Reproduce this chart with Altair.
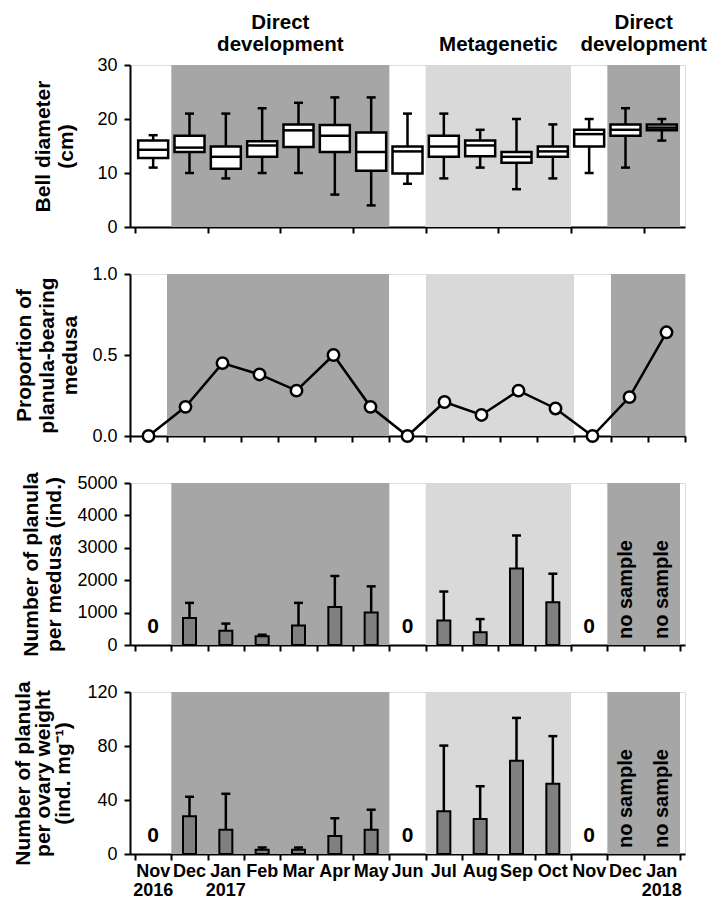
import altair as alt
import pandas as pd

# ---------------- data ----------------
months = ["Nov", "Dec", "Jan", "Feb", "Mar", "Apr", "May", "Jun",
          "Jul", "Aug", "Sep", "Oct", "Nov", "Dec", "Jan"]
years = ["2016", "", "2017", "", "", "", "", "", "", "", "", "", "", "", "2018"]

box_low = [11, 10, 9, 10, 10, 6, 4, 8, 9, 11, 7, 9, 10, 11, 16]
box_q1 = [12.8, 13.9, 10.8, 13.0, 14.8, 13.9, 10.4, 9.9, 13.0, 13.1, 11.9, 13.0, 14.9, 16.9, 17.9]
box_med = [14.3, 14.7, 13.0, 15.1, 17.9, 16.9, 13.9, 14.0, 14.9, 15.1, 13.0, 14.0, 17.2, 18.0, 18.4]
box_q3 = [16.0, 16.9, 14.9, 15.9, 19.0, 18.9, 17.5, 14.9, 16.9, 16.0, 13.9, 14.9, 18.0, 19.0, 19.0]
box_high = [17, 21, 21, 22, 23, 24, 24, 21, 21, 18, 20, 19, 20, 22, 20]

proportion = [0, 0.18, 0.45, 0.38, 0.28, 0.50, 0.18, 0, 0.21, 0.13, 0.28, 0.17, 0, 0.24, 0.64]

medusa_mean = [None, 830, 440, 270, 600, 1170, 1000, None, 760, 390, 2360, 1320, None, None, None]
medusa_sd = [None, 470, 220, 50, 700, 960, 810, None, 890, 410, 1020, 880, None, None, None]

ovary_mean = [None, 28, 18, 3.2, 3.2, 13.3, 18, None, 31.6, 26, 69, 52, None, None, None]
ovary_sd = [None, 14.4, 26.6, 1.6, 1.6, 13.2, 14.8, None, 48.7, 24.2, 31.8, 35.3, None, None, None]

zero_idx = [0, 7, 12]
nosample_idx = [13, 14]

phase_line1 = ["Direct", "", "Direct"]
phase_line2 = ["development", "Metagenetic", "development"]
phase_start = [1, 8, 13]
phase_end = [7, 12, 15]
phase_type = ["direct", "meta", "direct"]

# ---------------- tables ----------------
n = len(months)
pos = [i + 0.5 for i in range(n)]

box_df = pd.DataFrame({"pos": pos, "low": box_low, "q1": box_q1, "med": box_med,
                       "q3": box_q3, "high": box_high})
prop_df = pd.DataFrame({"pos": pos, "prop": proportion})
month_df = pd.DataFrame({"pos": pos,
                         "label": [m + ("\n" + y if y else "") for m, y in zip(months, years)]})


def bar_table(mean, sd):
    rows = []
    for p, m, s in zip(pos, mean, sd):
        if m is not None:
            rows.append({"pos": p, "mean": m, "top": m + s})
    return pd.DataFrame(rows)


medusa_df = bar_table(medusa_mean, medusa_sd)
ovary_df = bar_table(ovary_mean, ovary_sd)

phase_df = pd.DataFrame({"start": phase_start, "end": phase_end, "type": phase_type,
                         "line1": phase_line1, "line2": phase_line2,
                         "center": [(a + b) / 2 for a, b in zip(phase_start, phase_end)]})
zero_df = pd.DataFrame({"pos": [i + 0.5 for i in zero_idx], "value": 0, "label": "0"})
ns_df = pd.DataFrame({"pos": [i + 0.5 for i in nosample_idx], "value": 0, "label": "no sample"})

# ---------------- styling ----------------
W = 555
H = 162
FONT = "Liberation Sans"
xscale = alt.Scale(domain=[0, n], nice=False, zero=False)
shade_scale = alt.Scale(domain=["direct", "meta"], range=["#a6a6a6", "#d9d9d9"])


def xaxis(step=1):
    return alt.Axis(values=list(range(0, n + 1, step)), title=None, grid=False,
                    labels=False, tickSize=6, tickWidth=2, tickColor="black",
                    domainColor="black", domainWidth=2)


def yaxis(title, values, fmt, pad=16, lh=23):
    return alt.Axis(title=title, values=values, format=fmt, grid=False,
                    tickSize=6, tickWidth=2, tickColor="black", domainColor="black",
                    domainWidth=2, labelFontSize=18, labelPadding=7,
                    titleFontSize=21, titleLineHeight=lh, titlePadding=pad)


def X(field, axis):
    return alt.X(field, type="quantitative", scale=xscale, axis=axis)


def shade(axis):
    return alt.Chart(phase_df).mark_rect().encode(
        x=X("start", axis), x2="end",
        color=alt.Color("type:N", scale=shade_scale, legend=None))


def phase_text(field, yoff, axis):
    return alt.Chart(phase_df).mark_text(font=FONT, fontWeight="bold", fontSize=20.5,
                                         align="center", baseline="alphabetic",
                                         color="black").encode(
        x=X("center", axis), y=alt.value(yoff), text=f"{field}:N")


# ---------------- panel 1: bell diameter ----------------
ax1 = xaxis(2)
ys1 = alt.Scale(domain=[0, 30], nice=False)
ya1 = yaxis(["Bell diameter", "(cm)"], [0, 10, 20, 30], "d", pad=20)
b1 = alt.Chart(box_df)
p1 = alt.layer(
    shade(ax1),
    b1.mark_rule(color="black", strokeWidth=2.5).encode(
        x=X("pos", ax1), y=alt.Y("low:Q", scale=ys1, axis=ya1), y2="high"),
    b1.mark_bar(size=30, fill="white", stroke="black", strokeWidth=2.5).encode(
        x=X("pos", ax1), y=alt.Y("q1:Q", scale=ys1, axis=ya1), y2="q3"),
    b1.mark_tick(orient="horizontal", size=30, thickness=2.5, color="black", opacity=1).encode(
        x=X("pos", ax1), y=alt.Y("med:Q", scale=ys1, axis=ya1)),
    b1.mark_tick(orient="horizontal", size=9, thickness=2.5, color="black", opacity=1).encode(
        x=X("pos", ax1), y=alt.Y("low:Q", scale=ys1, axis=ya1)),
    b1.mark_tick(orient="horizontal", size=9, thickness=2.5, color="black", opacity=1).encode(
        x=X("pos", ax1), y=alt.Y("high:Q", scale=ys1, axis=ya1)),
    phase_text("line1", -36, ax1),
    phase_text("line2", -14, ax1),
).properties(width=W, height=H)

# ---------------- panel 2: proportion ----------------
ax2 = xaxis(1)
ys2 = alt.Scale(domain=[0, 1], nice=False)
ya2 = yaxis(["Proportion of", "planula-bearing", "medusa"], [0, 0.5, 1.0], ".1f",
            pad=11, lh=23)
b2 = alt.Chart(prop_df)
p2 = alt.layer(
    shade(ax2),
    b2.mark_line(color="black", strokeWidth=2.5).encode(
        x=X("pos", ax2), y=alt.Y("prop:Q", scale=ys2, axis=ya2)),
    b2.mark_point(shape="circle", filled=True, fill="white", stroke="black",
                  strokeWidth=2.5, size=130, opacity=1).encode(
        x=X("pos", ax2), y=alt.Y("prop:Q", scale=ys2, axis=ya2)),
).properties(width=W, height=H)


# ---------------- panels 3 & 4: bars ----------------
def bar_panel(df, domain, values, title, pad, lh, bottom=False):
    ax = xaxis(1)
    ys = alt.Scale(domain=domain, nice=False)
    ya = yaxis(title, values, "d", pad=pad, lh=lh)
    b = alt.Chart(df)
    layers = [
        shade(ax),
        b.mark_rule(color="black", strokeWidth=2.5).encode(
            x=X("pos", ax), y=alt.Y("mean:Q", scale=ys, axis=ya), y2="top"),
        b.mark_tick(orient="horizontal", size=9, thickness=2.5, color="black", opacity=1).encode(
            x=X("pos", ax), y=alt.Y("top:Q", scale=ys, axis=ya)),
        b.mark_bar(size=13, fill="#808080", stroke="black", strokeWidth=2).encode(
            x=X("pos", ax), y=alt.Y("mean:Q", scale=ys, axis=ya)),
        alt.Chart(zero_df).mark_text(font=FONT, fontWeight="bold", fontSize=21,
                                     baseline="alphabetic", dy=-12, color="black").encode(
            x=X("pos", ax), y=alt.Y("value:Q", scale=ys, axis=ya), text="label:N"),
        alt.Chart(ns_df).mark_text(font=FONT, fontWeight="bold", fontSize=20, angle=270,
                                   align="left", baseline="middle", dx=6, color="black").encode(
            x=X("pos", ax), y=alt.Y("value:Q", scale=ys, axis=ya), text="label:N"),
    ]
    if bottom:
        layers.append(
            alt.Chart(month_df).mark_text(font=FONT, fontWeight="bold", fontSize=18,
                                          lineBreak="\n", lineHeight=19, align="center",
                                          baseline="top", color="black").encode(
                x=X("pos", ax), y=alt.value(H + 9), text="label:N"))
    return alt.layer(*layers).properties(width=W, height=H)


p3 = bar_panel(medusa_df, [0, 5000], [0, 1000, 2000, 3000, 4000, 5000],
               ["Number of planula", "per medusa (ind.)"], 12, 23)
p4 = bar_panel(ovary_df, [0, 120], [0, 40, 80, 120],
               ["Number of planula", "per ovary weight", "(ind. mg\u207b\u00b9)"], 13, 20,
               bottom=True)

chart = alt.vconcat(p1, p2, p3, p4, spacing=47, bounds="flush").properties(
    padding={"left": 4, "top": 4, "right": 0, "bottom": 0}
).configure_view(
    stroke="black", strokeWidth=2
).configure_axis(
    labelFont=FONT, labelFontWeight="bold", labelColor="black",
    titleFont=FONT, titleFontWeight="bold", titleColor="black"
).configure(background="white")

chart.save("out.html", embed_options={"renderer": "svg", "actions": False})
